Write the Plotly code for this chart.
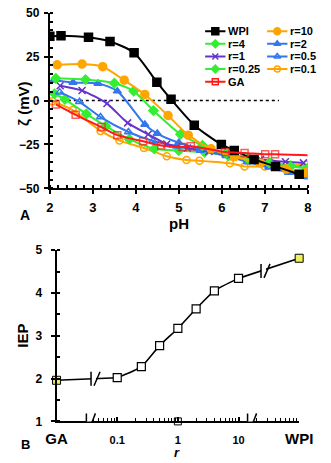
import numpy as np
import plotly.graph_objects as go

# ---------------- Panel A: zeta potential vs pH ----------------
ph_wpi = [2.0, 2.26, 2.9, 3.4, 3.96, 4.49, 4.82, 5.36, 5.99, 6.29, 6.75, 7.25, 7.8]
z_wpi = [36.6, 37.0, 36.1, 33.7, 27.2, 10.5, 0.7, -14.0, -25.0, -28.5, -33.5, -37.5, -42.0]

ph_r10 = [2.17, 2.75, 3.23, 3.73, 4.21, 4.75, 5.22, 5.75, 6.3, 6.9, 7.5, 7.95]
z_r10 = [20.4, 20.8, 19.3, 11.6, 3.5, -8.5, -19.7, -27.5, -32.0, -35.5, -39.0, -41.0]

ph_r4 = [2.14, 2.83, 3.5, 3.95, 4.41, 5.04, 5.55, 6.1, 6.6, 7.1, 7.6, 8.0]
z_r4 = [12.7, 12.0, 9.9, 5.4, -5.7, -19.2, -25.5, -30.0, -33.0, -35.5, -37.5, -38.5]

ph_r2 = [2.09, 2.54, 3.12, 3.57, 4.21, 4.5, 5.0, 5.5, 6.1, 6.6, 7.1, 7.6, 8.0]
z_r2 = [11.6, 10.3, 9.8, 5.4, -13.6, -18.8, -24.0, -27.5, -31.0, -34.0, -37.5, -40.5, -42.5]

ph_r1 = [2.24, 2.75, 3.33, 3.81, 4.29, 4.72, 5.2, 5.7, 6.3, 6.9, 7.48, 7.9]
z_r1 = [8.5, 5.7, -1.7, -12.7, -19.2, -24.7, -27.0, -29.0, -31.5, -33.5, -34.8, -35.5]

ph_r05 = [2.23, 2.69, 3.18, 3.83, 4.4, 4.95, 5.5, 6.1, 6.6, 7.1, 7.55, 8.0]
z_r05 = [4.8, -0.7, -9.4, -17.9, -23.0, -26.0, -28.5, -31.5, -35.0, -38.0, -41.0, -43.5]

ph_r025 = [2.11, 2.35, 2.85, 3.3, 3.85, 4.43, 5.0, 5.6, 6.15, 6.65, 7.15, 7.6, 8.0]
z_r025 = [3.9, 0.7, -7.6, -14.5, -22.0, -27.5, -28.5, -29.5, -31.5, -33.5, -35.5, -37.0, -38.5]

ph_r01 = [2.06, 2.53, 3.18, 3.62, 4.19, 4.72, 5.18, 5.48, 6.19, 6.53, 7.0, 7.98]
z_r01 = [-0.4, -5.4, -17.3, -22.8, -27.0, -31.7, -33.9, -34.3, -35.7, -37.5, -37.5, -36.6]

ph_ga = [2.14, 2.6, 3.2, 3.57, 4.17, 4.59, 5.09, 5.28, 6.08, 6.53, 7.01, 7.24, 8.0]
z_ga = [-2.2, -8.1, -15.1, -19.7, -23.2, -25.6, -26.5, -26.0, -29.3, -29.8, -30.6, -30.6, -31.1]

# ---------------- Panel B: IEP vs mixing ratio r ----------------
r_vals = [0.1, 0.25, 0.5, 1, 2, 4, 10]
iep_vals = [2.02, 2.28, 2.77, 3.17, 3.63, 4.05, 4.34]
iep_ga = 1.96
iep_wpi = 4.81
GA_POS, WPI_POS = 0.01, 100  # positions of the pure components on the r axis

ORANGE = "#FFA500"
GREEN = "#33EE33"
BLUE = "#3377EE"
PURPLE = "#6633CC"
RED = "#FF1A1A"
YELLOW = "#EEF25A"
FONT = "Liberation Sans"

W, H = 331, 463

def px_x(p):
    return p / W

def px_y(p):
    return 1 - p / H

fig = go.Figure()

# name, x, y, colour, symbol, size
series = [
    ("r=0.1", ph_r01, z_r01, ORANGE, "circle-open", 7),
    ("r=0.25", ph_r025, z_r025, GREEN, "diamond", 7),
    ("r=0.5", ph_r05, z_r05, BLUE, "triangle-up-open", 7),
    ("r=1", ph_r1, z_r1, PURPLE, "x-thin-open", 7),
    ("r=2", ph_r2, z_r2, BLUE, "triangle-up", 7),
    ("r=4", ph_r4, z_r4, GREEN, "diamond", 7),
    ("r=10", ph_r10, z_r10, ORANGE, "circle", 8),
    ("WPI", ph_wpi, z_wpi, "black", "square", 8),
]
style = {}
for name, xs, ys, col, sym, sz in series:
    style[name] = (col, sym, sz)
    fig.add_trace(go.Scatter(
        x=xs, y=ys, mode="lines+markers", name=name, showlegend=False,
        line=dict(color=col, width=2, shape="spline", smoothing=0.7),
        marker=dict(color=col, symbol=sym, size=sz, line=dict(color=col, width=1.5)),
        xaxis="x", yaxis="y", hoverinfo="skip"))

ga_sizes = [7] * (len(ph_ga) - 1) + [0]
style["GA"] = (RED, "square-open", 7)
fig.add_trace(go.Scatter(
    x=ph_ga, y=z_ga, mode="lines+markers", name="GA", showlegend=False,
    line=dict(color=RED, width=2, shape="spline", smoothing=0.7),
    marker=dict(color=RED, symbol="square-open", size=ga_sizes, line=dict(color=RED, width=1.5)),
    xaxis="x", yaxis="y", hoverinfo="skip"))

# ---- Panel B traces ----
fig.add_trace(go.Scatter(
    x=[GA_POS, r_vals[0]], y=[iep_ga, iep_vals[0]], mode="lines",
    line=dict(color="black", width=1.6), xaxis="x2", yaxis="y2", showlegend=False, hoverinfo="skip"))
fig.add_trace(go.Scatter(
    x=[r_vals[-1], WPI_POS], y=[iep_vals[-1], iep_wpi], mode="lines",
    line=dict(color="black", width=1.6), xaxis="x2", yaxis="y2", showlegend=False, hoverinfo="skip"))
fig.add_trace(go.Scatter(
    x=r_vals, y=iep_vals, mode="lines+markers",
    line=dict(color="black", width=1.6, shape="spline", smoothing=0.6),
    marker=dict(symbol="square", size=8, color="white", line=dict(color="black", width=1.2)),
    xaxis="x2", yaxis="y2", showlegend=False, hoverinfo="skip", cliponaxis=False))
fig.add_trace(go.Scatter(
    x=[GA_POS, WPI_POS], y=[iep_ga, iep_wpi], mode="markers",
    marker=dict(symbol="square", size=8, color=YELLOW, line=dict(color="black", width=1)),
    xaxis="x2", yaxis="y2", showlegend=False, hoverinfo="skip", cliponaxis=False))
# reference marker at r = 1 on the ratio axis
fig.add_trace(go.Scatter(
    x=[1], y=[1], mode="markers",
    marker=dict(symbol="square", size=7, color="white", line=dict(color="black", width=1)),
    xaxis="x2", yaxis="y2", showlegend=False, hoverinfo="skip", cliponaxis=False))

# ---- hand-built two-column legend for panel A ----
legend_rows = [["WPI", "r=10"], ["r=4", "r=2"], ["r=1", "r=0.5"], ["r=0.25", "r=0.1"], ["GA", None]]
col_x = [(210, 232), (277, 299)]
annotations = []
for i, row in enumerate(legend_rows):
    yy = 25 + 13 * i
    for j, name in enumerate(row):
        if name is None:
            continue
        col, sym, sz = style[name]
        x0, x1 = col_x[j]
        fig.add_trace(go.Scatter(
            x=[x0, x1], y=[yy, yy], mode="lines", line=dict(color=col, width=2),
            xaxis="x4", yaxis="y7", showlegend=False, hoverinfo="skip"))
        fig.add_trace(go.Scatter(
            x=[(x0 + x1) / 2], y=[yy], mode="markers",
            marker=dict(color=col, symbol=sym, size=sz - 1, line=dict(color=col, width=1.5)),
            xaxis="x4", yaxis="y7", showlegend=False, hoverinfo="skip"))
        annotations.append(dict(
            x=x1 + 1, y=yy, xref="x4", yref="y7", text=name, showarrow=False,
            xanchor="left", yanchor="middle",
            font=dict(family=FONT, size=11, color="black", weight="bold")))

# ---- axis styling ----
tick_font = dict(family=FONT, size=12, color="black", weight="bold")
common = dict(showgrid=False, zeroline=False, linecolor="black", linewidth=2,
              tickcolor="black", tickwidth=1.5)
inner = dict(ticks="inside", ticklen=4, showticklabels=False, showline=False,
             showgrid=False, zeroline=False, tickcolor="black", tickwidth=1.5)

x_dom_a = [px_x(42), px_x(321)]
y_dom_a = [px_y(187), px_y(6)]
x_dom_b = [px_x(49.3), px_x(311.7)]
y_dom_b = [px_y(427.3), px_y(250.7)]

ph_ticks = [2, 3, 4, 5, 6, 7, 8]
z_ticks = [-50, -25, 0, 25, 50]
iep_ticks = [1, 2, 3, 4, 5]

fig.update_layout(
    width=W, height=H, margin=dict(l=0, r=0, t=0, b=0),
    paper_bgcolor="white", plot_bgcolor="rgba(0,0,0,0)",
    font=dict(family=FONT, color="black"),
    showlegend=False,
    xaxis=dict(domain=x_dom_a, anchor="y", range=[2, 8], tickvals=ph_ticks,
               ticks="outside", ticklen=4, showline=True, tickfont=dict(tick_font, size=13),
               ticklabelstandoff=2,
               minor=dict(ticks="inside", ticklen=3, dtick=0.2, tick0=2, tickcolor="black", tickwidth=1.5),
               **common),
    xaxis3=dict(overlaying="x", anchor="y", range=[2, 8], tickvals=ph_ticks, **inner),
    yaxis=dict(domain=y_dom_a, anchor="x", range=[-50, 50], tickvals=z_ticks,
               ticks="outside", ticklen=4, showline=True, tickfont=tick_font,
               ticklabelstandoff=2,
               minor=dict(ticks="inside", ticklen=3, dtick=5, tick0=0, tickcolor="black", tickwidth=1.5),
               **common),
    yaxis3=dict(overlaying="y", anchor="x", range=[-50, 50], tickvals=z_ticks, **inner),
    xaxis2=dict(domain=x_dom_b, anchor="y2", type="log", range=[-2, 2],
                tickvals=[GA_POS, 0.1, 1, 10, WPI_POS],
                ticktext=["<span style='font-size:15px'>GA</span>", "0.1", "1", "10",
                          "<span style='font-size:15px'>WPI</span>"],
                ticks="inside", ticklen=4, showline=True, tickfont=dict(tick_font, size=11),
                ticklabelstandoff=7,
                minor=dict(ticks="inside", ticklen=3, tickmode="array",
                           tickvals=[0.04, 0.05, 0.06, 0.07, 0.08, 0.09,
                                     0.2, 0.3, 0.4, 0.5, 0.6, 0.7, 0.8, 0.9,
                                     2, 3, 4, 5, 6, 7, 8, 9,
                                     20, 30, 40, 50, 60, 70, 80, 90],
                           tickcolor="black", tickwidth=1.2),
                **common),
    yaxis2=dict(domain=y_dom_b, anchor="x2", range=[1, 5], tickvals=iep_ticks,
                ticks="outside", ticklen=4, showline=True, tickfont=tick_font,
                ticklabelstandoff=6,
                minor=dict(ticks="inside", ticklen=3, dtick=0.5, tick0=1, tickcolor="black", tickwidth=1.5),
                **common),
    yaxis4=dict(overlaying="y2", anchor="x2", side="right", range=[1, 5], tickvals=iep_ticks,
                ticks="outside", ticklen=4, showline=True, tickfont=tick_font,
                ticklabelstandoff=5,
                minor=dict(ticks="inside", ticklen=3, dtick=0.5, tick0=1, tickcolor="black", tickwidth=1.5),
                **common),
    yaxis5=dict(overlaying="y2", anchor="x2", range=[1, 5], tickvals=iep_ticks, **inner),
    yaxis6=dict(overlaying="y2", anchor="x2", side="right", range=[1, 5], tickvals=iep_ticks, **inner),
    xaxis4=dict(domain=[px_x(195), 1], anchor="y7", range=[195, 331], visible=False),
    yaxis7=dict(domain=[px_y(92), px_y(12)], anchor="x4", range=[92, 12], visible=False),
)

# ---- text labels ----
def label(text, x, y, size, angle=0, italic=False, xanchor="center"):
    annotations.append(dict(
        x=px_x(x), y=px_y(y), xref="paper", yref="paper", text=text, showarrow=False,
        textangle=angle, xanchor=xanchor, yanchor="middle",
        font=dict(family=FONT, size=size, color="black", weight="bold",
                  style="italic" if italic else "normal")))

label("ζ (mV)", 14, 100, 15, angle=-90)
label("pH", 182, 223, 15)
label("A", 15, 214, 14)
label("IEP", 13, 339, 15, angle=-90)
label("B", 16, 451, 13)
label("r", 180, 459, 13, italic=True)
fig.update_layout(annotations=annotations)

# ---- shapes: zero line and axis breaks ----
shapes = [dict(type="line", xref="x", yref="y", x0=2, x1=7.33, y0=0, y1=0,
               line=dict(color="black", width=1.5, dash="dot"), layer="below")]

def iep_at(r, r_a, y_a, r_b, y_b):
    t = (np.log10(r) - np.log10(r_a)) / (np.log10(r_b) - np.log10(r_a))
    return y_a + t * (y_b - y_a)

breaks = [
    # (break position on curve, curve value there, break position on axis)
    (0.037, iep_at(0.037, GA_POS, iep_ga, r_vals[0], iep_vals[0]), 0.031),
    (23.5, iep_at(23.5, r_vals[-1], iep_vals[-1], WPI_POS, iep_wpi), 14.1),
]
for r_line, y_line, r_axis in breaks:
    for ra, ya, half_h in [(r_line, y_line, 7), (r_axis, 1, 8)]:
        shapes.append(dict(type="rect", xref="x2", yref="y2", xsizemode="pixel", ysizemode="pixel",
                           xanchor=ra, yanchor=ya, x0=-5, x1=5, y0=-4, y1=4,
                           fillcolor="white", line=dict(width=0), layer="above"))
        for dx in (-6, 6):
            shapes.append(dict(type="line", xref="x2", yref="y2", xsizemode="pixel", ysizemode="pixel",
                               xanchor=ra, yanchor=ya, x0=dx - 3, x1=dx + 3, y0=-half_h, y1=half_h,
                               line=dict(color="black", width=1.5), layer="above"))
fig.update_layout(shapes=shapes)

fig.write_html("out.html")
